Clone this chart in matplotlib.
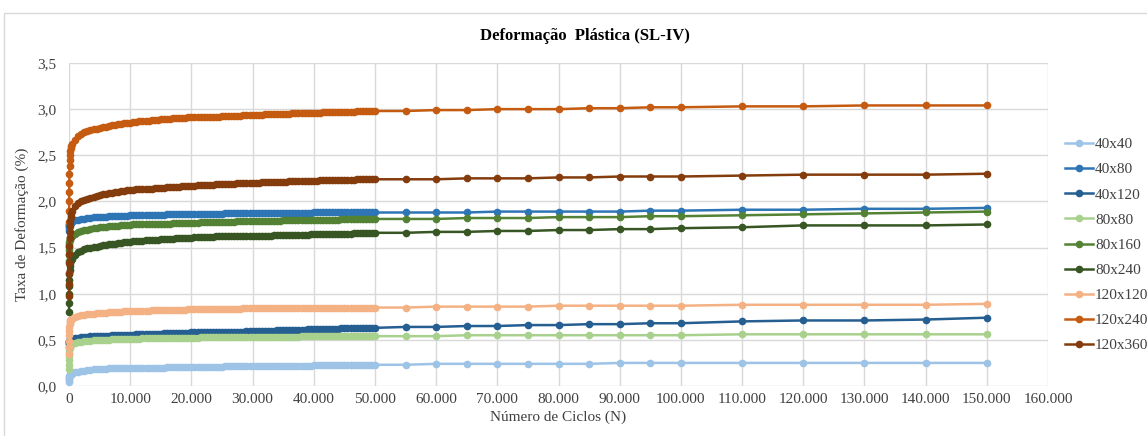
import matplotlib
matplotlib.use("Agg")
import matplotlib.pyplot as plt
from matplotlib.patches import Rectangle

plt.rcParams['font.family'] = ['Liberation Serif', 'DejaVu Serif']

# Número de ciclos (N) em que foram feitas as leituras
n_inicio = [1, 10, 20, 30, 40, 60, 80, 100, 150, 200, 300, 400]
n_denso = list(range(500, 50001, 500))
n_final = [55000, 60000, 65000, 70000, 75000, 80000, 85000, 90000, 95000, 100000,
           110000, 120000, 130000, 140000, 150000]
ciclos = n_inicio + n_denso + n_final

# Taxa de deformação (%) - 40x40
d40x40 = [0.04, 0.06, 0.08, 0.09, 0.10, 0.11, 0.115, 0.12, 0.12, 0.125, 0.13, 0.13] + [
    0.13, 0.15, 0.15, 0.16, 0.16, 0.17, 0.17, 0.18, 0.18, 0.18,
    0.18, 0.18, 0.19, 0.19, 0.19, 0.19, 0.19, 0.19, 0.19, 0.20,
    0.20, 0.20, 0.20, 0.20, 0.20, 0.20, 0.20, 0.20, 0.20, 0.20,
    0.20, 0.21, 0.21, 0.21, 0.21, 0.21, 0.21, 0.21, 0.21, 0.21,
    0.21, 0.21, 0.21, 0.21, 0.21, 0.21, 0.21, 0.21, 0.21, 0.21,
    0.22, 0.22, 0.22, 0.22, 0.22, 0.22, 0.22, 0.22, 0.22, 0.22,
    0.22, 0.22, 0.22, 0.22, 0.22, 0.22, 0.22, 0.22, 0.22, 0.22,
    0.22, 0.22, 0.22, 0.22, 0.22, 0.22, 0.22, 0.22, 0.22, 0.23,
    0.23, 0.23, 0.23, 0.23, 0.23, 0.23, 0.23, 0.23, 0.23, 0.23,
    0.23, 0.23, 0.23, 0.23, 0.23, 0.23, 0.23, 0.23, 0.23, 0.23] + [
    0.23, 0.24, 0.24, 0.24, 0.24, 0.24, 0.24, 0.25, 0.25, 0.25,
    0.25, 0.25, 0.25, 0.25, 0.25]

# 40x80
d40x80 = [1.68, 1.70, 1.72, 1.73, 1.74, 1.75, 1.76, 1.76, 1.77, 1.77, 1.77, 1.78] + [
    1.78, 1.80, 1.80, 1.81, 1.81, 1.82, 1.82, 1.83, 1.83, 1.83,
    1.83, 1.83, 1.84, 1.84, 1.84, 1.84, 1.84, 1.84, 1.84, 1.85,
    1.85, 1.85, 1.85, 1.85, 1.85, 1.85, 1.85, 1.85, 1.85, 1.85,
    1.85, 1.86, 1.86, 1.86, 1.86, 1.86, 1.86, 1.86, 1.86, 1.86,
    1.86, 1.86, 1.86, 1.86, 1.86, 1.86, 1.86, 1.86, 1.86, 1.86,
    1.87, 1.87, 1.87, 1.87, 1.87, 1.87, 1.87, 1.87, 1.87, 1.87,
    1.87, 1.87, 1.87, 1.87, 1.87, 1.87, 1.87, 1.87, 1.87, 1.87,
    1.87, 1.87, 1.87, 1.87, 1.87, 1.87, 1.87, 1.87, 1.87, 1.88,
    1.88, 1.88, 1.88, 1.88, 1.88, 1.88, 1.88, 1.88, 1.88, 1.88,
    1.88, 1.88, 1.88, 1.88, 1.88, 1.88, 1.88, 1.88, 1.88, 1.88] + [
    1.88, 1.88, 1.88, 1.89, 1.89, 1.89, 1.89, 1.89, 1.90, 1.90,
    1.91, 1.91, 1.92, 1.92, 1.93]

# 40x120
d40x120 = [0.42, 0.45, 0.47, 0.48, 0.49, 0.49, 0.50, 0.50, 0.50, 0.51, 0.51, 0.51] + [
    0.51, 0.52, 0.52, 0.53, 0.53, 0.53, 0.54, 0.54, 0.54, 0.54,
    0.54, 0.54, 0.54, 0.55, 0.55, 0.55, 0.55, 0.55, 0.55, 0.55,
    0.55, 0.56, 0.56, 0.56, 0.56, 0.56, 0.56, 0.56, 0.56, 0.56,
    0.57, 0.57, 0.57, 0.57, 0.57, 0.57, 0.57, 0.57, 0.57, 0.58,
    0.58, 0.58, 0.58, 0.58, 0.58, 0.58, 0.58, 0.58, 0.59, 0.59,
    0.59, 0.59, 0.59, 0.59, 0.59, 0.59, 0.59, 0.60, 0.60, 0.60,
    0.60, 0.60, 0.60, 0.60, 0.60, 0.60, 0.60, 0.61, 0.61, 0.61,
    0.61, 0.61, 0.61, 0.61, 0.61, 0.61, 0.61, 0.62, 0.62, 0.62,
    0.62, 0.62, 0.62, 0.62, 0.62, 0.62, 0.62, 0.62, 0.63, 0.63,
    0.63, 0.63, 0.63, 0.63, 0.63, 0.63, 0.63, 0.63, 0.63, 0.63] + [
    0.64, 0.64, 0.65, 0.65, 0.66, 0.66, 0.67, 0.67, 0.68, 0.68,
    0.70, 0.71, 0.71, 0.72, 0.74]

# 80x80
d80x80 = [0.18, 0.23, 0.28, 0.32, 0.36, 0.39, 0.41, 0.43, 0.44, 0.45, 0.45, 0.46] + [
    0.46, 0.47, 0.48, 0.48, 0.49, 0.49, 0.49, 0.50, 0.50, 0.50,
    0.50, 0.50, 0.50, 0.51, 0.51, 0.51, 0.51, 0.51, 0.51, 0.51,
    0.51, 0.51, 0.51, 0.52, 0.52, 0.52, 0.52, 0.52, 0.52, 0.52,
    0.52, 0.52, 0.52, 0.52, 0.52, 0.52, 0.52, 0.52, 0.52, 0.52,
    0.52, 0.52, 0.53, 0.53, 0.53, 0.53, 0.53, 0.53, 0.53, 0.53,
    0.53, 0.53, 0.53, 0.53, 0.53, 0.53, 0.53, 0.53, 0.53, 0.53,
    0.53, 0.53, 0.53, 0.53, 0.53, 0.53, 0.53, 0.53, 0.53, 0.53,
    0.53, 0.53, 0.53, 0.53, 0.53, 0.54, 0.54, 0.54, 0.54, 0.54,
    0.54, 0.54, 0.54, 0.54, 0.54, 0.54, 0.54, 0.54, 0.54, 0.54,
    0.54, 0.54, 0.54, 0.54, 0.54, 0.54, 0.54, 0.54, 0.54, 0.54] + [
    0.54, 0.54, 0.55, 0.55, 0.55, 0.55, 0.55, 0.55, 0.55, 0.55,
    0.56, 0.56, 0.56, 0.56, 0.56]

# 80x160
d80x160 = [1.35, 1.42, 1.47, 1.51, 1.54, 1.56, 1.58, 1.59, 1.60, 1.61, 1.61, 1.62] + [
    1.62, 1.65, 1.67, 1.68, 1.69, 1.69, 1.70, 1.71, 1.71, 1.72,
    1.72, 1.72, 1.73, 1.73, 1.73, 1.73, 1.74, 1.74, 1.74, 1.74,
    1.75, 1.75, 1.75, 1.75, 1.75, 1.75, 1.76, 1.76, 1.76, 1.76,
    1.76, 1.76, 1.76, 1.77, 1.77, 1.77, 1.77, 1.77, 1.77, 1.77,
    1.77, 1.77, 1.78, 1.78, 1.78, 1.78, 1.78, 1.78, 1.78, 1.78,
    1.78, 1.78, 1.78, 1.78, 1.79, 1.79, 1.79, 1.79, 1.79, 1.79,
    1.79, 1.79, 1.79, 1.79, 1.79, 1.79, 1.79, 1.79, 1.79, 1.80,
    1.80, 1.80, 1.80, 1.80, 1.80, 1.80, 1.80, 1.80, 1.80, 1.80,
    1.80, 1.80, 1.80, 1.80, 1.80, 1.80, 1.80, 1.80, 1.81, 1.81,
    1.81, 1.81, 1.81, 1.81, 1.81, 1.81, 1.81, 1.81, 1.81, 1.81] + [
    1.81, 1.81, 1.82, 1.82, 1.82, 1.83, 1.83, 1.83, 1.84, 1.84,
    1.85, 1.86, 1.87, 1.88, 1.89]

# 80x240
d80x240 = [0.80, 0.90, 1.00, 1.08, 1.15, 1.21, 1.26, 1.30, 1.33, 1.35, 1.36, 1.37] + [
    1.38, 1.42, 1.45, 1.46, 1.48, 1.49, 1.50, 1.51, 1.51, 1.52,
    1.53, 1.53, 1.54, 1.54, 1.54, 1.55, 1.55, 1.56, 1.56, 1.56,
    1.57, 1.57, 1.57, 1.57, 1.58, 1.58, 1.58, 1.58, 1.58, 1.59,
    1.59, 1.59, 1.59, 1.59, 1.60, 1.60, 1.60, 1.60, 1.60, 1.60,
    1.61, 1.61, 1.61, 1.61, 1.61, 1.61, 1.61, 1.62, 1.62, 1.62,
    1.62, 1.62, 1.62, 1.62, 1.62, 1.62, 1.63, 1.63, 1.63, 1.63,
    1.63, 1.63, 1.63, 1.63, 1.63, 1.63, 1.64, 1.64, 1.64, 1.64,
    1.64, 1.64, 1.64, 1.64, 1.64, 1.64, 1.64, 1.64, 1.65, 1.65,
    1.65, 1.65, 1.65, 1.65, 1.65, 1.65, 1.65, 1.65, 1.65, 1.65,
    1.65, 1.65, 1.66, 1.66, 1.66, 1.66, 1.66, 1.66, 1.66, 1.66] + [
    1.66, 1.67, 1.67, 1.68, 1.68, 1.69, 1.69, 1.70, 1.70, 1.71,
    1.72, 1.74, 1.74, 1.74, 1.75]

# 120x120
d120x120 = [0.35, 0.42, 0.49, 0.55, 0.60, 0.64, 0.67, 0.69, 0.70, 0.71, 0.72, 0.72] + [
    0.73, 0.75, 0.76, 0.77, 0.77, 0.78, 0.78, 0.78, 0.79, 0.79,
    0.79, 0.79, 0.80, 0.80, 0.80, 0.80, 0.80, 0.81, 0.81, 0.81,
    0.81, 0.81, 0.81, 0.81, 0.81, 0.81, 0.82, 0.82, 0.82, 0.82,
    0.82, 0.82, 0.82, 0.82, 0.82, 0.82, 0.82, 0.82, 0.83, 0.83,
    0.83, 0.83, 0.83, 0.83, 0.83, 0.83, 0.83, 0.83, 0.83, 0.83,
    0.83, 0.83, 0.83, 0.83, 0.83, 0.83, 0.84, 0.84, 0.84, 0.84,
    0.84, 0.84, 0.84, 0.84, 0.84, 0.84, 0.84, 0.84, 0.84, 0.84,
    0.84, 0.84, 0.84, 0.84, 0.84, 0.84, 0.84, 0.84, 0.84, 0.84,
    0.84, 0.84, 0.85, 0.85, 0.85, 0.85, 0.85, 0.85, 0.85, 0.85,
    0.85, 0.85, 0.85, 0.85, 0.85, 0.85, 0.85, 0.85, 0.85, 0.85] + [
    0.85, 0.86, 0.86, 0.86, 0.86, 0.87, 0.87, 0.87, 0.87, 0.87,
    0.88, 0.88, 0.88, 0.88, 0.89]

# 120x240
d120x240 = [1.78, 1.90, 2.00, 2.10, 2.20, 2.30, 2.38, 2.45, 2.50, 2.55, 2.58, 2.60] + [
    2.62, 2.67, 2.71, 2.73, 2.75, 2.76, 2.77, 2.78, 2.79, 2.80,
    2.81, 2.81, 2.82, 2.83, 2.83, 2.84, 2.84, 2.85, 2.85, 2.85,
    2.86, 2.86, 2.87, 2.87, 2.87, 2.87, 2.88, 2.88, 2.88, 2.89,
    2.89, 2.89, 2.89, 2.90, 2.90, 2.90, 2.90, 2.90, 2.91, 2.91,
    2.91, 2.91, 2.91, 2.92, 2.92, 2.92, 2.92, 2.92, 2.92, 2.93,
    2.93, 2.93, 2.93, 2.93, 2.93, 2.93, 2.94, 2.94, 2.94, 2.94,
    2.94, 2.94, 2.94, 2.95, 2.95, 2.95, 2.95, 2.95, 2.95, 2.95,
    2.95, 2.95, 2.96, 2.96, 2.96, 2.96, 2.96, 2.96, 2.96, 2.96,
    2.96, 2.96, 2.97, 2.97, 2.97, 2.97, 2.97, 2.97, 2.97, 2.97,
    2.97, 2.97, 2.97, 2.98, 2.98, 2.98, 2.98, 2.98, 2.98, 2.98] + [
    2.98, 2.99, 2.99, 3.00, 3.00, 3.00, 3.01, 3.01, 3.02, 3.02,
    3.03, 3.03, 3.04, 3.04, 3.04]

# 120x360
d120x360 = [0.97, 1.10, 1.22, 1.33, 1.43, 1.52, 1.60, 1.67, 1.73, 1.79, 1.83, 1.86] + [
    1.90, 1.95, 1.98, 2.00, 2.02, 2.03, 2.04, 2.05, 2.06, 2.07,
    2.08, 2.08, 2.09, 2.09, 2.10, 2.10, 2.11, 2.11, 2.12, 2.12,
    2.12, 2.13, 2.13, 2.13, 2.14, 2.14, 2.14, 2.15, 2.15, 2.15,
    2.15, 2.16, 2.16, 2.16, 2.16, 2.16, 2.17, 2.17, 2.17, 2.17,
    2.17, 2.18, 2.18, 2.18, 2.18, 2.18, 2.18, 2.19, 2.19, 2.19,
    2.19, 2.19, 2.19, 2.19, 2.20, 2.20, 2.20, 2.20, 2.20, 2.20,
    2.20, 2.20, 2.21, 2.21, 2.21, 2.21, 2.21, 2.21, 2.21, 2.21,
    2.21, 2.22, 2.22, 2.22, 2.22, 2.22, 2.22, 2.22, 2.22, 2.22,
    2.22, 2.23, 2.23, 2.23, 2.23, 2.23, 2.23, 2.23, 2.23, 2.23,
    2.23, 2.23, 2.23, 2.24, 2.24, 2.24, 2.24, 2.24, 2.24, 2.24] + [
    2.24, 2.24, 2.25, 2.25, 2.25, 2.26, 2.26, 2.27, 2.27, 2.27,
    2.28, 2.29, 2.29, 2.29, 2.30]

nomes = ['40x40', '40x80', '40x120', '80x80', '80x160', '80x240',
         '120x120', '120x240', '120x360']
series = [d40x40, d40x80, d40x120, d80x80, d80x160, d80x240,
          d120x120, d120x240, d120x360]
cores = ['#9DC3E6', '#2E75B6', '#255E91', '#A9D18E', '#548235', '#375623',
         '#F4B183', '#C55A11', '#843C0C']

x_ticks = [0, 10000, 20000, 30000, 40000, 50000, 60000, 70000, 80000,
           90000, 100000, 110000, 120000, 130000, 140000, 150000, 160000]
x_labels = ['0', '10.000', '20.000', '30.000', '40.000', '50.000', '60.000',
            '70.000', '80.000', '90.000', '100.000', '110.000', '120.000',
            '130.000', '140.000', '150.000', '160.000']
y_ticks = [0.0, 0.5, 1.0, 1.5, 2.0, 2.5, 3.0, 3.5]
y_labels = ['0,0', '0,5', '1,0', '1,5', '2,0', '2,5', '3,0', '3,5']

fig = plt.figure(figsize=(11.47, 4.36), dpi=100)
ax = fig.add_axes([0.0602, 0.1147, 0.8535, 0.7408])

for nome, y, cor in zip(nomes, series, cores):
    ax.plot(ciclos, y, color=cor, lw=1.8, marker='o', markersize=5.5,
            markeredgewidth=0, label=nome, clip_on=False)

ax.set_xlim(0, 160000)
ax.set_ylim(0, 3.5)
ax.set_xticks(x_ticks)
ax.set_xticklabels(x_labels)
ax.set_yticks(y_ticks)
ax.set_yticklabels(y_labels)
ax.tick_params(length=0, labelsize=11, colors='#404040')
ax.tick_params(axis='y', pad=9)
ax.tick_params(axis='x', pad=5)
ax.grid(True, color='#D9D9D9', lw=1)
ax.set_axisbelow(True)
for s in ax.spines.values():
    s.set_visible(False)

ax.set_xlabel('Número de Ciclos (N)', fontsize=11, color='#404040', labelpad=3)
ax.set_ylabel('Taxa de Deformação (%)', fontsize=11, color='#404040', labelpad=6)
fig.text(0.51, 0.917, 'Deformação  Plástica (SL-IV)', ha='center', va='center',
         fontsize=12, fontweight='bold', color='black')

ax.legend(loc='center left', bbox_to_anchor=(0.922, 0.438),
          bbox_transform=fig.transFigure, frameon=False, fontsize=11,
          handlelength=1.8, handletextpad=0.15, labelspacing=0.75, borderpad=0,
          labelcolor='#404040')

# moldura do gráfico
fig.patches.append(Rectangle((0.0035, -0.05), 1.1, 1.02, transform=fig.transFigure,
                             fill=False, edgecolor='#D9D9D9', lw=1))

fig.savefig('out.png', dpi=100)
